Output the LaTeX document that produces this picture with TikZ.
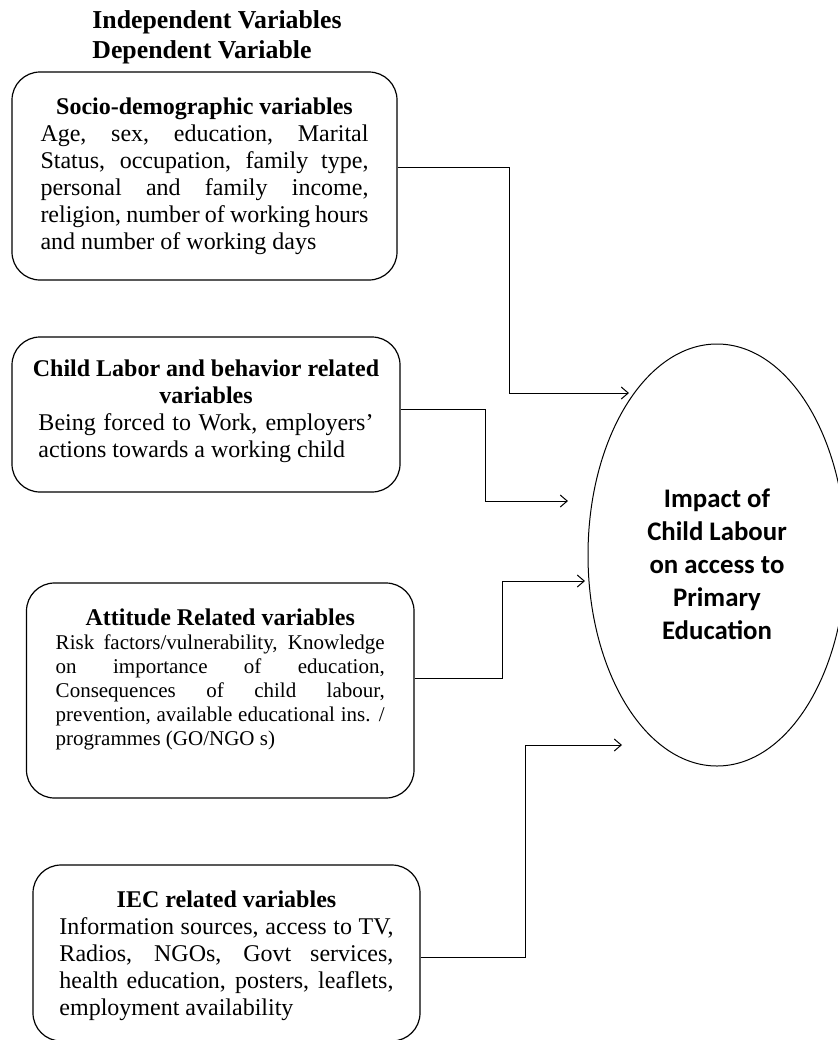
\documentclass[tikz,border=0pt]{standalone}
\usepackage{fontspec}
\setmainfont{Liberation Serif}
\newfontfamily\calibri{Carlito}
\usepackage{tikz}
\usetikzlibrary{shapes}
\usetikzlibrary{positioning}
\usetikzlibrary{arrows.meta}

\newcommand{\padbelow}[1]{\par\vspace*{#1}\hrule height 0pt}

\begin{document}
\begin{tikzpicture}[x=0.5pt, y=-0.5pt, >={Straight Barb[length=3.5pt, width=6pt]},
    varbox/.style={draw, rounded corners=14pt, line width=0.6pt, align=justify, inner sep=0pt, font=\fontsize{12}{13.5}\selectfont},
    link/.style={->, line width=0.5pt}]
        \useasboundingbox (0,0) rectangle (837,1040);

        \node[anchor=west, align=left, inner sep=0pt, font=\fontsize{12.9}{15}\selectfont\bfseries] (head) at (92,37) {Independent Variables\\Dependent Variable};

        \node[varbox, text width=164pt, minimum width=192.5pt, minimum height=104pt] (socio) at (204.5,176) {{\centering\bfseries Socio-demographic variables\par}
            Age, sex, education, Marital\linebreak Status, occupation, family type,\linebreak personal and family income,\linebreak religion, number of working hours\linebreak and number of working days\par};
        \node[varbox, text width=167.5pt, minimum width=194pt, minimum height=77.5pt] (labor) at (206,414.5) {{\centering\bfseries\makebox[\linewidth][c]{Child Labor and behavior related}\\variables\par}
            Being forced to Work, employers’\linebreak actions towards a working child\padbelow{3pt}};
        \node[varbox, text width=164.5pt, minimum width=193.75pt, minimum height=107.5pt, font=\fontsize{10.5}{12}\selectfont] (attitude) at (220.25,690.5) {{\centering\bfseries\fontsize{12}{12.5}\selectfont Attitude Related variables\par}
            Risk factors/vulnerability, Knowledge\linebreak on importance of education,\linebreak Consequences of child labour,\linebreak prevention, available educational ins. /\linebreak programmes (GO/NGO s)\padbelow{11pt}};
        \node[varbox, text width=167pt, minimum width=193.5pt, minimum height=88pt] (iec) at (226.5,953) {{\centering\bfseries IEC related variables\par}
            Information sources, access to TV,\linebreak Radios, NGOs, Govt services,\linebreak health education, posters, leaflets,\linebreak employment availability\padbelow{-3pt}};

        \node[draw, ellipse, line width=0.5pt, minimum width=129pt, minimum height=211pt] (impact) at (717,555) {};
        \node[align=center, font=\calibri\bfseries\fontsize{13.4}{16.5}\selectfont] (impacttext) at (717,564) {Impact of\\Child Labour\\on access to\\Primary\\Education};

        \coordinate (in1) at (629,393);
        \coordinate (in2) at (568,501);
        \coordinate (in3) at (585,581);
        \coordinate (in4) at (622,745);

        \draw[link] ([yshift=4.5pt]socio.east) -- ++(112,0) |- (in1);
        \draw[link] ([yshift=2.75pt]labor.east) -- ++(85,0) |- (in2);
        \draw[link] ([yshift=6.25pt]attitude.east) -- ++(88,0) |- (in3);
        \draw[link] ([yshift=-2pt]iec.east) -- ++(105,0) |- (in4);
    \end{tikzpicture}
\end{document}
